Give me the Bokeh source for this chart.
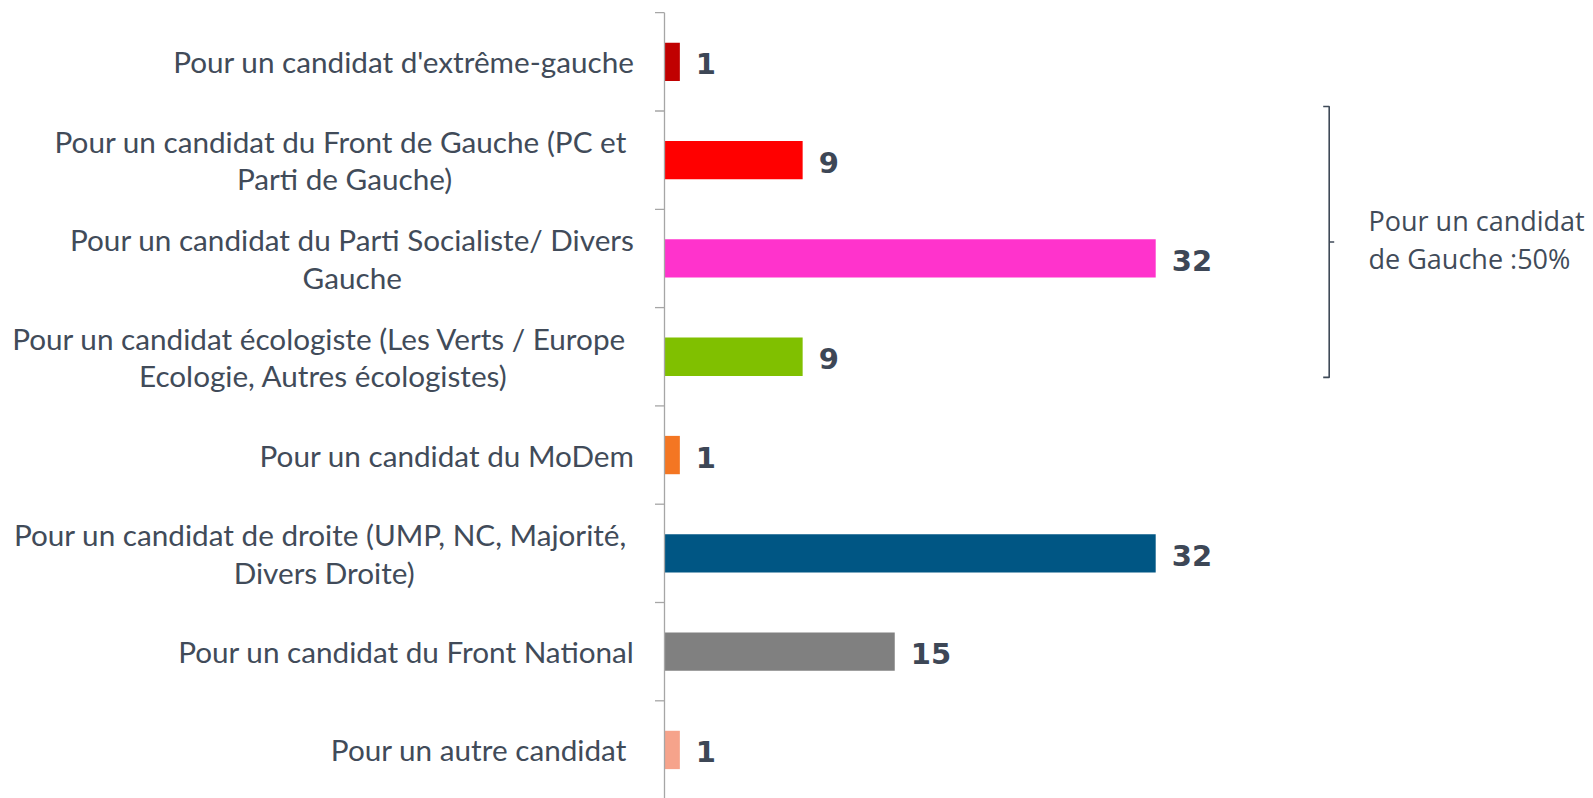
from bokeh.plotting import figure
from bokeh.models import ColumnDataSource, Range1d
from bokeh.core.properties import value
from bokeh.embed import file_html
from bokeh.resources import INLINE

# ---------------- data ----------------
categories = [
    "Pour un candidat d'extrême-gauche",
    "Pour un candidat du Front de Gauche (PC et \nParti de Gauche)",
    "Pour un candidat du Parti Socialiste/ Divers\nGauche",
    "Pour un candidat écologiste (Les Verts / Europe \nEcologie, Autres écologistes)",
    "Pour un candidat du MoDem",
    "Pour un candidat de droite (UMP, NC, Majorité, \nDivers Droite)",
    "Pour un candidat du Front National",
    "Pour un autre candidat ",
]
values = [1, 9, 32, 9, 1, 32, 15, 1]
colors = ["#c00000", "#ff0000", "#ff33cc", "#80c000",
          "#f47622", "#005684", "#808080", "#f6a38b"]
bracket_note = "Pour un candidat\nde Gauche :50%"
bracket_span = (1, 3)  # first and last category index covered by the bracket

# ---------------- layout ----------------
W, H = 1593, 798
px_per_unit = 15.35      # horizontal pixels per percentage point
axis_px = 664            # screen x of the zero line
band_px = 98.3           # vertical pixels per category
top_px = 12.2            # screen y of first band edge

x0 = -axis_px / px_per_unit
x1 = (W - axis_px) / px_per_unit
y_top = -top_px / band_px
y_bot = (H - top_px) / band_px

p = figure(width=W, height=H, output_backend="svg", toolbar_location=None,
           x_range=Range1d(x0, x1), y_range=Range1d(y_bot, y_top),
           x_axis_location=None, y_axis_location=None,
           min_border=0, min_border_left=0, min_border_right=0,
           min_border_top=0, min_border_bottom=0, tools="")
p.outline_line_color = None
p.xgrid.visible = False
p.ygrid.visible = False
p.background_fill_color = "white"

n = len(categories)
ys = [i + 0.5 for i in range(n)]
src = ColumnDataSource(dict(y=ys, v=values, color=colors, label=categories,
                            vlabel=[str(v) for v in values]))

# bars
p.hbar(y="y", left=0, right="v", height=0.39, fill_color="color",
       line_color=None, source=src)

# axis line & ticks
axis_col = "#a6a6a6"
p.segment(x0=[0], y0=[0], x1=[0], y1=[n + 0.5], line_color=axis_col, line_width=1.3)
tick_len = 9.5 / px_per_unit
edges = list(range(n + 1))
p.segment(x0=[-tick_len] * len(edges), y0=edges, x1=[0] * len(edges), y1=edges,
          line_color=axis_col, line_width=1.3)

text_col = "#414b59"

# category labels (lines centred inside a right-anchored block)
p.text(x=-30 / px_per_unit, y="y", text="label", source=src,
       anchor="center_right", text_align="center", text_baseline="middle",
       text_font=value("Lato"), text_font_size="29.7px", text_line_height=1.07,
       text_color=text_col)

# value labels
p.text(x="v", y="y", text="vlabel", source=src, x_offset=16, y_offset=2,
       text_align="left", text_baseline="middle",
       text_font=value("DejaVu Sans"), text_font_style="bold",
       text_font_size="29px", text_color="#3d4756")

# bracket
bx = (1328.7 - axis_px) / px_per_unit
hook = 6 / px_per_unit
b_top = bracket_span[0] - 0.046
b_bot = bracket_span[1] + 0.71
b_mid = (b_top + b_bot) / 2
br_col = "#3f4a58"
p.line(x=[bx - hook, bx, bx, bx - hook], y=[b_top, b_top, b_bot, b_bot],
       line_color=br_col, line_width=1.6)
p.segment(x0=[bx], y0=[b_mid], x1=[bx + 5 / px_per_unit], y1=[b_mid],
          line_color=br_col, line_width=1.6)
p.text(x=[(1368 - axis_px) / px_per_unit], y=[b_mid - 0.025], text=[bracket_note],
       text_align="left", text_baseline="middle",
       text_font=value("Open Sans"), text_font_size="27px", text_line_height=1.02,
       text_color=text_col)

open("out.html", "w").write(file_html(p, INLINE))
